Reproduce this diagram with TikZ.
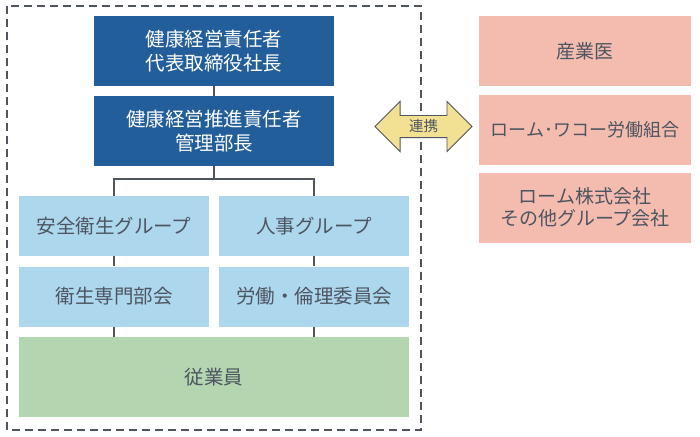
\documentclass[tikz,border=0pt]{standalone}
\usepackage{fontspec}
\setmainfont{Noto Sans CJK JP}
\usepackage{tikz}
\usetikzlibrary{positioning,shapes.arrows}

\definecolor{topblue}{HTML}{225E9A}
\definecolor{grpblue}{HTML}{ADD7ED}
\definecolor{staffgreen}{HTML}{B3D6B1}
\definecolor{extpink}{HTML}{F4BCAF}
\definecolor{linkyellow}{HTML}{F3E193}
\definecolor{txtgray}{HTML}{4D5560}
\definecolor{lngray}{HTML}{4F555C}

\tikzset{
  box/.style={inner sep=0pt,align=center,font=\fontsize{19.5}{24}\selectfont,text=txtgray},
  headbox/.style={box,fill=topblue,text=white,minimum width=240,minimum height=70},
  grpbox/.style={box,fill=grpblue,minimum width=190,minimum height=60},
  extbox/.style={box,fill=extpink,minimum width=212,minimum height=70,font=\fontsize{19}{21.5}\selectfont},
  conn/.style={lngray,line width=1.5pt},
}

\begin{document}
\begin{tikzpicture}[x=1pt,y=-1pt]
        \useasboundingbox (0,0) rectangle (700,436);
        \draw[lngray,line width=1.5pt,dash pattern=on 8pt off 5pt] (7,6) rectangle (421,430);
        % inside the frame
        \node[headbox] (ceo) at (214,51) {健康経営責任者\\代表取締役社長};
        \node[headbox] (mgr) at (214,131) {健康経営推進責任者\\管理部長};
        \node[grpbox] (safety) at (114,226) {安全衛生グループ};
        \node[grpbox] (hr) at (314,226) {人事グループ};
        \node[grpbox] (hygiene) at (114,296.5) {衛生専門部会};
        \node[grpbox] (labor) at (314,296.5) {労働・倫理委員会};
        \node[box,fill=staffgreen,minimum width=390,minimum height=80] (staff) at (214,377) {従業員};
        \coordinate (split) at (214,179);
        \draw[conn] (ceo) -- (mgr);
        \draw[conn] (mgr) -- (split);
        \draw[conn] (safety.north) |- (split) -| (hr.north);
        \draw[conn] (safety) -- (hygiene);
        \draw[conn] (hr) -- (labor);
        \draw[conn] (hygiene) -- (hygiene |- staff.north);
        \draw[conn] (labor) -- (labor |- staff.north);
        % outside partners
        \node[extbox] (doctor) at (585,51) {産業医};
        \node[extbox,font=\fontsize{18}{21.5}\selectfont] (union) at (585,130) {ローム･ワコー労働組合};
        \node[extbox] (group) at (585,207.5) {ローム株式会社\\その他グループ会社};
        \node[double arrow,draw=lngray,line width=0.8pt,fill=linkyellow,text=txtgray,
              font=\fontsize{14.5}{16}\selectfont,inner xsep=1pt,inner ysep=4pt,
              minimum height=97,double arrow head extend=14pt] (link) at (423.5,126.5) {連携};
\end{tikzpicture}
\end{document}
